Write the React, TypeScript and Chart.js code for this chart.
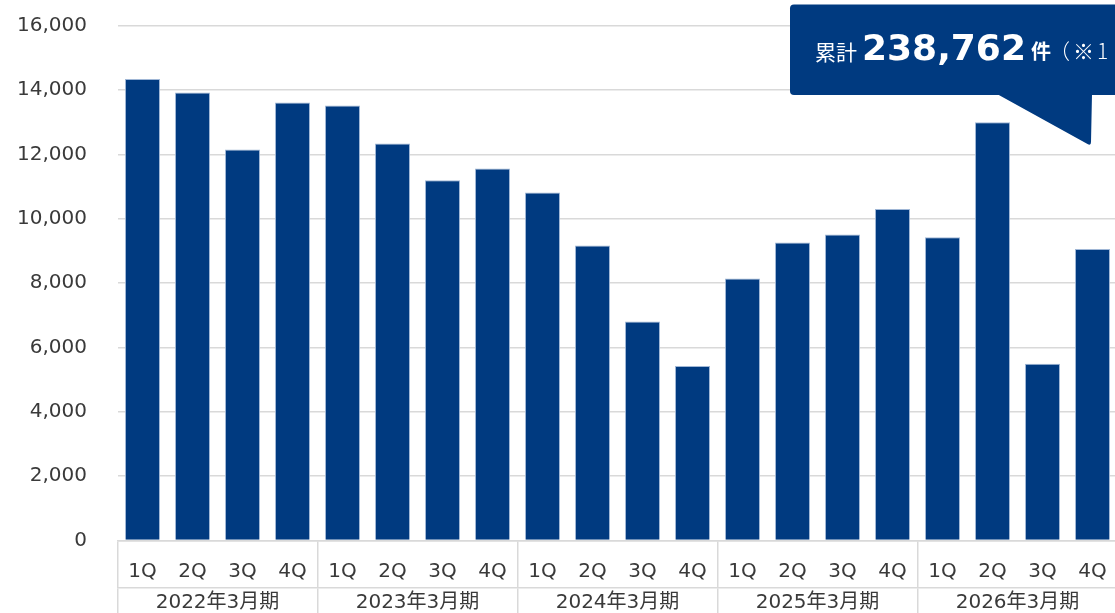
import React, { useEffect, useRef } from "react";
import { Chart, registerables } from "chart.js";

Chart.register(...registerables);

// ---- data ----
const quarterLabels = [
  "1Q", "2Q", "3Q", "4Q",
  "1Q", "2Q", "3Q", "4Q",
  "1Q", "2Q", "3Q", "4Q",
  "1Q", "2Q", "3Q", "4Q",
  "1Q", "2Q", "3Q", "4Q",
];
const fiscalYearLabels = ["2022年3月期", "2023年3月期", "2024年3月期", "2025年3月期", "2026年3月期"];
const orderCounts = [
  14340, 13925, 12150, 13615,
  13520, 12340, 11200, 11560,
  10815, 9165, 6810, 5420,
  8140, 9260, 9510, 10305,
  9425, 13000, 5495, 9060,
];
const yMin = 0;
const yMax = 16000;
const yStep = 2000;
const calloutPrefix = "累計";
const calloutValue = "238,762";
const calloutUnit = "件";
const calloutNote = "（※1";

const BAR_COLOR = "#003A80";
const GRID_COLOR = "#d9d9d9";
const TEXT_COLOR = "#3a3a3a";
const LATIN = "'DejaVu Sans', 'Noto Sans CJK JP', sans-serif";
const CJK = "'Noto Sans CJK JP', 'DejaVu Sans', sans-serif";

const calloutPlugin = {
  id: "callout",
  afterDraw(chart: any) {
    const ctx = chart.ctx as CanvasRenderingContext2D;
    ctx.save();
    ctx.fillStyle = BAR_COLOR;
    // box
    const x = 790, y = 4.5, w = 345, h = 90.5, r = 4;
    ctx.beginPath();
    ctx.moveTo(x + r, y);
    ctx.lineTo(x + w - r, y);
    ctx.quadraticCurveTo(x + w, y, x + w, y + r);
    ctx.lineTo(x + w, y + h - r);
    ctx.quadraticCurveTo(x + w, y + h, x + w - r, y + h);
    ctx.lineTo(x + r, y + h);
    ctx.quadraticCurveTo(x, y + h, x, y + h - r);
    ctx.lineTo(x, y + r);
    ctx.quadraticCurveTo(x, y, x + r, y);
    ctx.closePath();
    ctx.fill();
    // tail
    ctx.beginPath();
    ctx.moveTo(997, y + h - 1);
    ctx.lineTo(1092, y + h - 1);
    ctx.lineTo(1091, 142);
    ctx.quadraticCurveTo(1091, 146, 1087.5, 144);
    ctx.closePath();
    ctx.fill();

    // text
    ctx.fillStyle = "#ffffff";
    ctx.textBaseline = "alphabetic";
    ctx.textAlign = "left";
    const base = 59.5;
    let tx = 815;
    ctx.font = `21px ${CJK}`;
    ctx.fillText(calloutPrefix, tx, base);
    tx += ctx.measureText(calloutPrefix).width + 5;
    ctx.font = `bold 36px ${LATIN}`;
    ctx.fillText(calloutValue, tx, base);
    tx += ctx.measureText(calloutValue).width + 5;
    ctx.font = `bold 20px ${CJK}`;
    ctx.fillText(calloutUnit, tx, base - 1);
    tx += ctx.measureText(calloutUnit).width - 2;
    ctx.font = `300 21px ${CJK}`;
    (ctx as any).letterSpacing = "3px";
    ctx.fillText(calloutNote, tx, base - 1);
    ctx.restore();
  },
};

export default function App() {
  const canvasRef = useRef<HTMLCanvasElement | null>(null);

  useEffect(() => {
    if (!canvasRef.current) return;
    const chart = new Chart(canvasRef.current, {
      type: "bar",
      data: {
        labels: quarterLabels,
        datasets: [
          {
            data: orderCounts,
            backgroundColor: BAR_COLOR,
            borderColor: "rgba(150,175,210,0.9)",
            borderWidth: 1,
            barPercentage: 0.7,
            categoryPercentage: 1,
          },
        ],
      },
      options: {
        responsive: false,
        animation: false,
        devicePixelRatio: 1,
        layout: { padding: { top: 25.7, right: 7.5, bottom: 0, left: 0 } },
        plugins: {
          legend: { display: false },
          tooltip: { enabled: false },
        },
        scales: {
          x: {
            type: "category",
            position: "bottom",
            weight: 0,
            offset: true,
            afterFit: (s: any) => {
              s.height = 47.5;
              s.paddingLeft = 0;
              s.paddingRight = 0;
            },
            border: { display: true, color: GRID_COLOR, width: 1.5 },
            grid: {
              display: true,
              offset: true,
              drawOnChartArea: false,
              drawTicks: true,
              tickLength: 47.5,
              lineWidth: 1.5,
              color: (c: any) => (c.index % 4 === 0 ? GRID_COLOR : "rgba(0,0,0,0)"),
            },
            ticks: {
              color: TEXT_COLOR,
              font: { family: LATIN, size: 20 },
              padding: -28.5,
              maxRotation: 0,
              autoSkip: false,
            },
          },
          x2: {
            type: "category",
            position: "bottom",
            weight: 1,
            labels: fiscalYearLabels,
            offset: true,
            afterFit: (s: any) => {
              s.height = 25;
              s.paddingLeft = 0;
              s.paddingRight = 0;
            },
            border: { display: true, color: GRID_COLOR, width: 1.5 },
            grid: {
              display: true,
              offset: true,
              drawOnChartArea: false,
              drawTicks: true,
              tickLength: 25,
              lineWidth: 1.5,
              color: GRID_COLOR,
            },
            ticks: {
              color: TEXT_COLOR,
              font: { family: LATIN, size: 20 },
              padding: -22,
              maxRotation: 0,
              autoSkip: false,
            },
          },
          y: {
            type: "linear",
            min: yMin,
            max: yMax,
            afterFit: (s: any) => {
              s.width = 117.5;
              s.paddingTop = 0;
              s.paddingBottom = 0;
            },
            border: { display: false },
            grid: {
              color: GRID_COLOR,
              lineWidth: 1.5,
              drawTicks: false,
            },
            ticks: {
              stepSize: yStep,
              color: TEXT_COLOR,
              font: { family: LATIN, size: 20 },
              padding: 30.5,
              callback: (v: any) => Number(v).toLocaleString("en-US"),
            },
          },
        },
      },
      plugins: [calloutPlugin],
    });
    return () => chart.destroy();
  }, []);

  return (
    <div
      style={{
        position: "fixed",
        left: 0,
        top: 0,
        width: 1115,
        height: 613,
        overflow: "hidden",
        background: "#ffffff",
      }}
    >
      <canvas
        ref={canvasRef}
        width={1125}
        height={613}
        style={{ width: 1125, height: 613, display: "block" }}
      />
    </div>
  );
}
